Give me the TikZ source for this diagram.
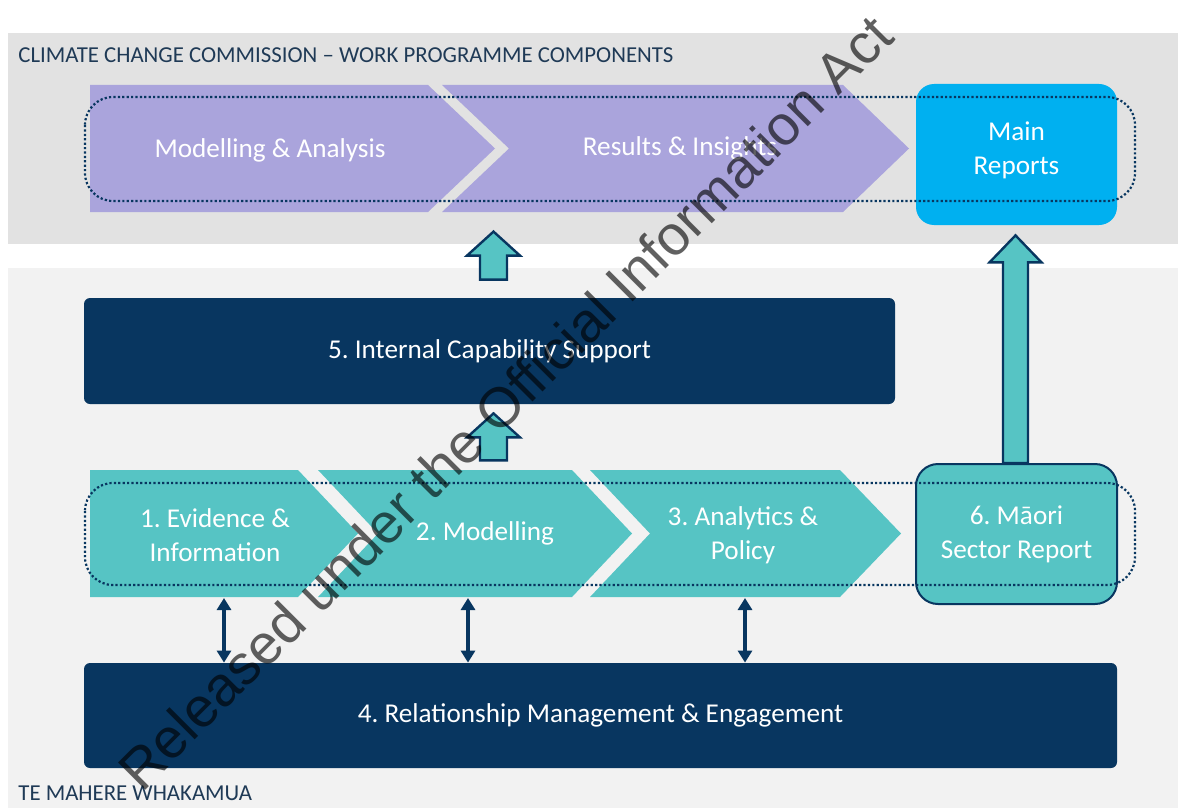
\documentclass[tikz,border=0pt]{standalone}
\usepackage{fontspec}
\setmainfont{Carlito}
\newfontfamily\stampfont{Liberation Sans}
\usetikzlibrary{calc,arrows.meta}
\frenchspacing

\definecolor{navy}{RGB}{8,54,96}
\definecolor{headtext}{RGB}{31,58,86}
\definecolor{lavender}{RGB}{170,164,220}
\definecolor{skyblue}{RGB}{0,176,240}
\definecolor{tealfill}{RGB}{86,196,196}
\definecolor{bandgray}{RGB}{226,226,226}
\definecolor{bandlight}{RGB}{242,242,242}

% chevron: colour, x left, x right, y top, y bottom, notch depth, tip length
\newcommand{\chevron}[7]{\fill[#1] (#2,#4) -- (#3,#4) -- (#3+#7,{(#4+#5)/2}) -- (#3,#5) -- (#2,#5) -- (#2+#6,{(#4+#5)/2}) -- cycle;}

% upward block arrow: foot, tip, half shaft, half head, head length
\newcommand{\blockarrow}[5]{\filldraw[blockup] let \p1=(#1), \p2=(#2) in
    (\x1-#3,\y1) -- (\x1-#3,\y2-#5) -- (\x1-#4,\y2-#5) -- (\x1,\y2)
    -- (\x1+#4,\y2-#5) -- (\x1+#3,\y2-#5) -- (\x1+#3,\y1) -- cycle;}

\begin{document}
\begin{tikzpicture}[x=0.5pt,y=-0.5pt,
    lbl/.style={text=white,align=center,inner sep=0pt,font=\fontsize{13.6}{17}\selectfont},
    navybox/.style={lbl,fill=navy,rounded corners=3pt},
    heading/.style={text=headtext,inner sep=0pt,font=\fontsize{11.4}{14}\selectfont},
    blockup/.style={fill=tealfill,draw=navy,line width=1.2pt,line join=miter},
    frame/.style={draw=navy,line width=1.1pt,dash pattern=on 1.1pt off 1.1pt,rounded corners=14pt},
    link/.style={navy,line width=2pt,{Triangle[width=7pt,length=6pt]}-{Triangle[width=7pt,length=6pt]}}]
    \useasboundingbox (0,0) rectangle (1192,808);
    \fill[white] (0,0) rectangle (1192,808);

    % background bands
    \fill[bandgray] (8,33) rectangle (1178,244);
    \fill[bandlight] (8,268) rectangle (1178,808);

    \node[heading,anchor=base west] (title) at (18,63) {CLIMATE CHANGE COMMISSION – WORK PROGRAMME COMPONENTS};
    \node[heading,anchor=base west] (footer) at (18,800) {TE MAHERE WHAKAMUA};

    % purple row
    \chevron{lavender}{90}{428}{85}{212}{0}{67}
    \chevron{lavender}{442}{843}{85}{212}{67}{66}
    \node[lbl] (model) at (270,150) {Modelling \& Analysis};
    \node[lbl] (results) at (680,148) {Results \& Insights};
    \node[lbl,fill=skyblue,rounded corners=9pt,minimum width=100.5pt,minimum height=70.5pt,text depth=6pt] (main) at (1016.5,154.5) {Main\\Reports};

    % teal row
    \chevron{tealfill}{90}{298}{470}{597}{0}{60}
    \chevron{tealfill}{318}{572}{470}{597}{60}{60}
    \chevron{tealfill}{590}{840}{470}{597}{60}{61}
    \node[lbl] (evid) at (215,535) {1. Evidence \&\\Information};
    \node[lbl] (modl) at (485,533) {2. Modelling};
    \node[lbl] (analy) at (743,535) {3. Analytics \&\\Policy};
    \node[lbl,fill=tealfill,draw=navy,line width=1pt,rounded corners=11pt,minimum width=100.5pt,minimum height=70pt] (maori) at (1016.5,534) {6. Māori\\Sector Report};

    \node[navybox,minimum width=405.5pt,minimum height=53pt] (cap) at (489.5,351) {5. Internal Capability Support};
    \node[navybox,minimum width=516.5pt,minimum height=52.5pt] (rel) at (600.5,715.5) {4. Relationship Management \& Engagement};

    % block arrows
    \blockarrow{$(cap.north)+(4,-18)$}{$(cap.north)+(4,-66)$}{6.75pt}{13.25pt}{12pt}
    \blockarrow{$(cap.south)+(4,56)$}{$(cap.south)+(4,9)$}{6.75pt}{13.25pt}{12pt}
    \blockarrow{$(maori.north)+(-1,0)$}{$(main.south)+(-1,10)$}{6.25pt}{13pt}{13.5pt}

    % dotted frames round both rows
    \draw[frame] (85,97) rectangle (1135,201);
    \draw[frame] (85,483) rectangle (1135,585);

    % links down to relationship management
    \coordinate (foot1) at (224,598);
    \coordinate (foot2) at (468,598);
    \coordinate (foot3) at (745,598);
    \foreach \f in {foot1,foot2,foot3}
        \draw[link] (\f) -- (\f |- rel.north);

    \node[text=black,opacity=0.62,rotate=45,font=\stampfont\fontsize{28}{33}\selectfont] (stamp) at (505,402) {Released under the Official Information Act};
\end{tikzpicture}
\end{document}
